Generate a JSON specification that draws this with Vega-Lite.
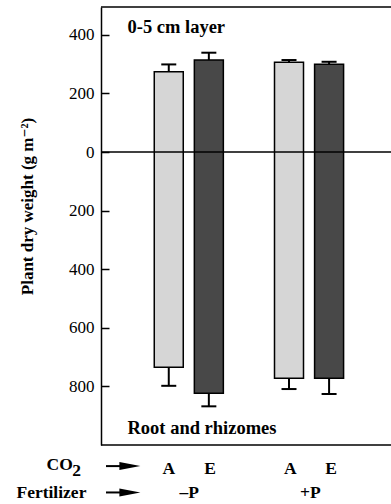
{
  "$schema": "https://vega.github.io/schema/vega-lite/v6.json",
  "width": 290,
  "height": 438,
  "autosize": "none",
  "padding": {"left": 101, "top": 7, "right": 0, "bottom": 59},
  "config": {"view": {"stroke": null}, "font": "Liberation Serif, DejaVu Serif, serif"},
  "datasets": {
    "bars": [
      {"co2": "A", "fert": "-P", "pos": 1, "shoot": 274, "shootErr": 299, "root": -735, "rootErr": -798},
      {"co2": "E", "fert": "-P", "pos": 2, "shoot": 314, "shootErr": 339, "root": -823, "rootErr": -868},
      {"co2": "A", "fert": "+P", "pos": 4, "shoot": 306, "shootErr": 314, "root": -772, "rootErr": -809},
      {"co2": "E", "fert": "+P", "pos": 5, "shoot": 300, "shootErr": 308, "root": -772, "rootErr": -826}
    ],
    "hlines": [{"y": 0}, {"y": 495}, {"y": -1000}],
    "arrows": [
      {"x": -0.566, "x2": -0.15, "xh": 0.03, "y": -1072},
      {"x": -0.566, "x2": -0.15, "xh": 0.03, "y": -1162}
    ],
    "ctext": [
      {"t": "A", "x": 1, "y": -1082},
      {"t": "E", "x": 2.03, "y": -1082},
      {"t": "A", "x": 4.03, "y": -1082},
      {"t": "E", "x": 5.05, "y": -1082},
      {"t": "–P", "x": 1.51, "y": -1164},
      {"t": "+P", "x": 4.53, "y": -1164}
    ],
    "ltext": [
      {"t": "CO", "x": -2.05, "y": -1068},
      {"t": "2", "x": -1.41, "y": -1090},
      {"t": "Fertilizer", "x": -2.8, "y": -1164}
    ],
    "ptext": [
      {"t": "0-5 cm layer", "x": -0.03, "y": 428},
      {"t": "Root and rhizomes", "x": -0.03, "y": -943}
    ]
  },
  "layer": [
    {
      "data": {"name": "bars"},
      "mark": {"type": "bar", "width": 29, "stroke": "black", "strokeWidth": 1.5},
      "encoding": {
        "x": {"field": "pos", "type": "quantitative", "scale": {"domain": [-0.566, 6.42], "nice": false, "zero": false}, "axis": null},
        "y": {
          "field": "shoot", "type": "quantitative",
          "scale": {"domain": [-1000, 495], "nice": false},
          "axis": {
            "values": [-800, -700, -600, -500, -400, -300, -200, -100, 0, 100, 200, 300, 400],
            "labelExpr": "datum.value % 200 === 0 ? '' + abs(datum.value) : ''",
            "grid": false,
            "tickSize": -8,
            "tickColor": "black",
            "tickWidth": 1.5,
            "domainColor": "black",
            "domainWidth": 1.5,
            "labelFont": "Liberation Serif, DejaVu Serif, serif",
            "labelFontSize": 17,
            "labelColor": "black",
            "labelPadding": 15,
            "labelBaseline": "middle",
            "title": "Plant dry weight (g m⁻²)",
            "titleFont": "Liberation Serif, DejaVu Serif, serif",
            "titleFontSize": 17,
            "titleFontWeight": "bold",
            "titleColor": "black",
            "titleAngle": -90,
            "titleAlign": "center",
            "titleBaseline": "middle",
            "titleX": -74,
            "titleY": 199
          }
        },
        "y2": {"field": "root"},
        "color": {"field": "co2", "type": "nominal", "scale": {"domain": ["A", "E"], "range": ["#d6d6d6", "#484848"]}, "legend": null}
      }
    },
    {
      "data": {"name": "bars"},
      "mark": {"type": "rule", "color": "black", "strokeWidth": 2},
      "encoding": {"x": {"field": "pos", "type": "quantitative"}, "y": {"field": "shoot", "type": "quantitative"}, "y2": {"field": "shootErr"}}
    },
    {
      "data": {"name": "bars"},
      "mark": {"type": "rule", "color": "black", "strokeWidth": 2},
      "encoding": {"x": {"field": "pos", "type": "quantitative"}, "y": {"field": "root", "type": "quantitative"}, "y2": {"field": "rootErr"}}
    },
    {
      "data": {"name": "bars"},
      "mark": {"type": "tick", "orient": "horizontal", "color": "black", "size": 15, "thickness": 2, "opacity": 1},
      "encoding": {"x": {"field": "pos", "type": "quantitative"}, "y": {"field": "shootErr", "type": "quantitative"}}
    },
    {
      "data": {"name": "bars"},
      "mark": {"type": "tick", "orient": "horizontal", "color": "black", "size": 15, "thickness": 2, "opacity": 1},
      "encoding": {"x": {"field": "pos", "type": "quantitative"}, "y": {"field": "rootErr", "type": "quantitative"}}
    },
    {
      "data": {"name": "hlines"},
      "mark": {"type": "rule", "color": "black", "strokeWidth": 1.5},
      "encoding": {"y": {"field": "y", "type": "quantitative"}}
    },
    {
      "data": {"name": "arrows"},
      "mark": {"type": "rule", "color": "black", "strokeWidth": 2},
      "encoding": {"x": {"field": "x", "type": "quantitative"}, "x2": {"field": "x2"}, "y": {"field": "y", "type": "quantitative"}}
    },
    {
      "data": {"name": "arrows"},
      "mark": {"type": "point", "shape": "M -1 -0.38 L 1 0 L -1 0.38 Z", "filled": true, "color": "black", "size": 440, "opacity": 1},
      "encoding": {"x": {"field": "xh", "type": "quantitative"}, "y": {"field": "y", "type": "quantitative"}}
    },
    {
      "data": {"name": "ctext"},
      "mark": {"type": "text", "font": "Liberation Serif, DejaVu Serif, serif", "fontSize": 17.5, "fontWeight": "bold", "align": "center", "baseline": "middle", "color": "black"},
      "encoding": {"x": {"field": "x", "type": "quantitative"}, "y": {"field": "y", "type": "quantitative"}, "text": {"field": "t"}}
    },
    {
      "data": {"name": "ltext"},
      "mark": {"type": "text", "font": "Liberation Serif, DejaVu Serif, serif", "fontSize": 17.5, "fontWeight": "bold", "align": "left", "baseline": "middle", "color": "black"},
      "encoding": {"x": {"field": "x", "type": "quantitative"}, "y": {"field": "y", "type": "quantitative"}, "text": {"field": "t"}}
    },
    {
      "data": {"name": "ptext"},
      "mark": {"type": "text", "font": "Liberation Serif, DejaVu Serif, serif", "fontSize": 18.5, "fontWeight": "bold", "align": "left", "baseline": "middle", "color": "black"},
      "encoding": {"x": {"field": "x", "type": "quantitative"}, "y": {"field": "y", "type": "quantitative"}, "text": {"field": "t"}}
    }
  ]
}
